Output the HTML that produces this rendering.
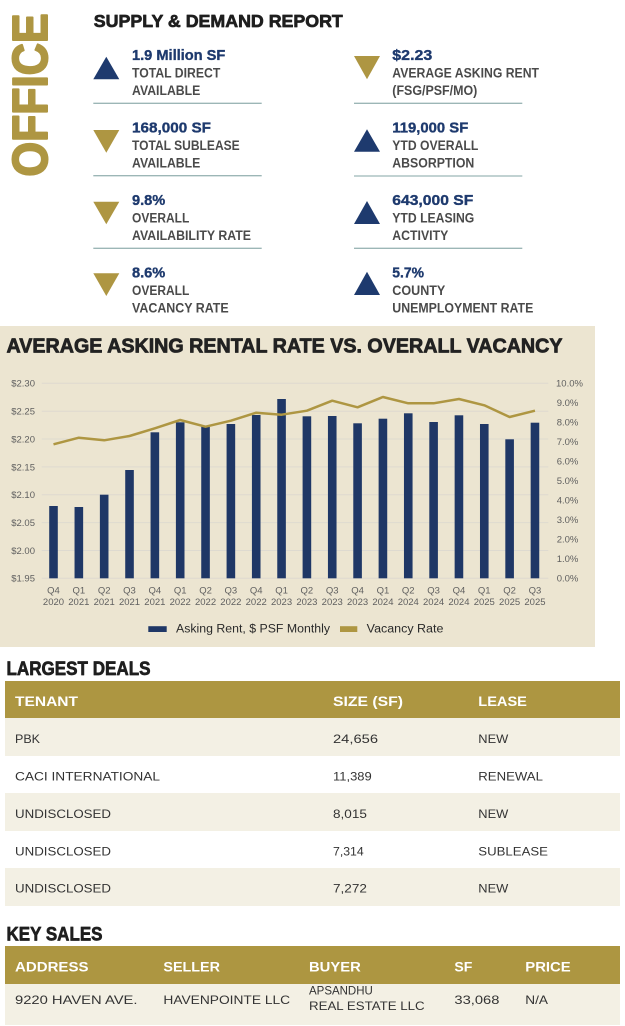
<!DOCTYPE html>
<html><head><meta charset="utf-8"><style>
html,body{margin:0;padding:0;background:#fff;}
svg{display:block;font-family:"Liberation Sans",Arial,sans-serif;}
</style></head><body>
<svg width="625" height="1026" viewBox="0 0 625 1026" xmlns="http://www.w3.org/2000/svg">
<rect width="625" height="1026" fill="#fff"/>
<!-- OFFICE vertical -->
<text transform="translate(47,176.5) rotate(-90)" font-size="49" font-weight="bold" fill="#ae9642" stroke="#ae9642" stroke-width="2" stroke-linejoin="round" textLength="163" lengthAdjust="spacingAndGlyphs">OFFICE</text>
<text x="93.8" y="27" font-size="17.5" font-weight="bold" fill="#1e1e1e" stroke="#1e1e1e" stroke-width="0.7" stroke-linejoin="round" textLength="249" lengthAdjust="spacingAndGlyphs">SUPPLY &amp; DEMAND REPORT</text>

<!-- left column -->
<g>
<polygon points="93.3,79.3 119.3,79.3 106.3,56.7" fill="#1e3a6e"/>
<polygon points="93.3,130 119.3,130 106.3,152.7" fill="#ae9642"/>
<polygon points="93.3,201.7 119.3,201.7 106.3,224.3" fill="#ae9642"/>
<polygon points="93.3,273.3 119.3,273.3 106.3,296" fill="#ae9642"/>
<g font-weight="bold" font-size="15" fill="#1e3a6e" stroke="#1e3a6e" stroke-width="0.35">
<text x="132" y="60" textLength="93.3" lengthAdjust="spacingAndGlyphs">1.9 Million SF</text>
<text x="132" y="132.3" textLength="79" lengthAdjust="spacingAndGlyphs">168,000 SF</text>
<text x="132" y="205" textLength="33.3" lengthAdjust="spacingAndGlyphs">9.8%</text>
<text x="132" y="277.3" textLength="33.3" lengthAdjust="spacingAndGlyphs">8.6%</text>
</g>
<g font-weight="bold" font-size="13.5" fill="#4a4a4a">
<text x="132" y="77.3" textLength="88.3" lengthAdjust="spacingAndGlyphs">TOTAL DIRECT</text>
<text x="132" y="95" textLength="68.3" lengthAdjust="spacingAndGlyphs">AVAILABLE</text>
<text x="132" y="150" textLength="107.7" lengthAdjust="spacingAndGlyphs">TOTAL SUBLEASE</text>
<text x="132" y="167.7" textLength="68.3" lengthAdjust="spacingAndGlyphs">AVAILABLE</text>
<text x="132" y="222.3" textLength="57.3" lengthAdjust="spacingAndGlyphs">OVERALL</text>
<text x="132" y="240" textLength="119" lengthAdjust="spacingAndGlyphs">AVAILABILITY RATE</text>
<text x="132" y="295" textLength="57.3" lengthAdjust="spacingAndGlyphs">OVERALL</text>
<text x="132" y="312.3" textLength="96.7" lengthAdjust="spacingAndGlyphs">VACANCY RATE</text>
</g>
<g stroke="#9cb6b6" stroke-width="1.3">
<line x1="93.3" y1="103.3" x2="261.7" y2="103.3"/>
<line x1="93.3" y1="175.7" x2="261.7" y2="175.7"/>
<line x1="93.3" y1="248.3" x2="261.7" y2="248.3"/>
</g>
</g>

<!-- right column -->
<g>
<polygon points="354,56 380,56 367,79.3" fill="#ae9642"/>
<polygon points="354,151.7 380,151.7 367,129.3" fill="#1e3a6e"/>
<polygon points="354,224 380,224 367,201" fill="#1e3a6e"/>
<polygon points="354,295 380,295 367,271.7" fill="#1e3a6e"/>
<g font-weight="bold" font-size="15" fill="#1e3a6e" stroke="#1e3a6e" stroke-width="0.35">
<text x="392.3" y="60" textLength="40" lengthAdjust="spacingAndGlyphs">$2.23</text>
<text x="392.3" y="132.3" textLength="76" lengthAdjust="spacingAndGlyphs">119,000 SF</text>
<text x="392.3" y="205" textLength="81" lengthAdjust="spacingAndGlyphs">643,000 SF</text>
<text x="392.3" y="277.3" textLength="31.7" lengthAdjust="spacingAndGlyphs">5.7%</text>
</g>
<g font-weight="bold" font-size="13.5" fill="#4a4a4a">
<text x="392.3" y="77.3" textLength="146.7" lengthAdjust="spacingAndGlyphs">AVERAGE ASKING RENT</text>
<text x="392.3" y="95" textLength="85" lengthAdjust="spacingAndGlyphs">(FSG/PSF/MO)</text>
<text x="392.3" y="150" textLength="86" lengthAdjust="spacingAndGlyphs">YTD OVERALL</text>
<text x="392.3" y="167.7" textLength="82" lengthAdjust="spacingAndGlyphs">ABSORPTION</text>
<text x="392.3" y="222.3" textLength="82" lengthAdjust="spacingAndGlyphs">YTD LEASING</text>
<text x="392.3" y="240" textLength="56" lengthAdjust="spacingAndGlyphs">ACTIVITY</text>
<text x="392.3" y="295" textLength="53" lengthAdjust="spacingAndGlyphs">COUNTY</text>
<text x="392.3" y="312.3" textLength="141" lengthAdjust="spacingAndGlyphs">UNEMPLOYMENT RATE</text>
</g>
<g stroke="#9cb6b6" stroke-width="1.3">
<line x1="354" y1="103.3" x2="522.3" y2="103.3"/>
<line x1="354" y1="176" x2="522.3" y2="176"/>
<line x1="354" y1="248.3" x2="522.3" y2="248.3"/>
</g>
</g>

<!-- Chart -->
<rect x="0" y="326" width="595" height="321" fill="#ece5d1"/>
<text x="6.5" y="352.5" font-size="20.5" font-weight="bold" fill="#222" stroke="#222" stroke-width="0.8" stroke-linejoin="round" textLength="556" lengthAdjust="spacingAndGlyphs">AVERAGE ASKING RENTAL RATE VS. OVERALL VACANCY</text>
<g stroke="#dedad0" stroke-width="1">
<line x1="41.7" y1="383.3" x2="548.3" y2="383.3"/>
<line x1="41.7" y1="411.2" x2="548.3" y2="411.2"/>
<line x1="41.7" y1="439" x2="548.3" y2="439"/>
<line x1="41.7" y1="466.9" x2="548.3" y2="466.9"/>
<line x1="41.7" y1="494.7" x2="548.3" y2="494.7"/>
<line x1="41.7" y1="522.6" x2="548.3" y2="522.6"/>
<line x1="41.7" y1="550.5" x2="548.3" y2="550.5"/>
<line x1="41.7" y1="578.3" x2="548.3" y2="578.3"/>
</g>
<g font-size="9.5" fill="#5f5f5f" text-anchor="end">
<text x="35" y="386.7">$2.30</text>
<text x="35" y="414.6">$2.25</text>
<text x="35" y="442.4">$2.20</text>
<text x="35" y="470.3">$2.15</text>
<text x="35" y="498.1">$2.10</text>
<text x="35" y="526">$2.05</text>
<text x="35" y="553.9">$2.00</text>
<text x="35" y="581.7">$1.95</text>
</g>
<g font-size="9.5" fill="#5f5f5f">
<text x="556" y="386.7">10.0%</text>
<text x="556.7" y="406.2">9.0%</text>
<text x="556.7" y="425.7">8.0%</text>
<text x="556.7" y="445.2">7.0%</text>
<text x="556.7" y="464.7">6.0%</text>
<text x="556.7" y="484.2">5.0%</text>
<text x="556.7" y="503.7">4.0%</text>
<text x="556.7" y="523.2">3.0%</text>
<text x="556.7" y="542.7">2.0%</text>
<text x="556.7" y="562.2">1.0%</text>
<text x="556.7" y="581.7">0.0%</text>
</g>
<g fill="#1f3766">
<rect x="49.2" y="506" width="8.6" height="72.3"/>
<rect x="74.54" y="507" width="8.6" height="71.3"/>
<rect x="99.88" y="494.7" width="8.6" height="83.6"/>
<rect x="125.22" y="470" width="8.6" height="108.3"/>
<rect x="150.56" y="432.3" width="8.6" height="146"/>
<rect x="175.9" y="422.3" width="8.6" height="156"/>
<rect x="201.24" y="426.7" width="8.6" height="151.6"/>
<rect x="226.58" y="424" width="8.6" height="154.3"/>
<rect x="251.92" y="415" width="8.6" height="163.3"/>
<rect x="277.26" y="399" width="8.6" height="179.3"/>
<rect x="302.6" y="416.3" width="8.6" height="162"/>
<rect x="327.94" y="416" width="8.6" height="162.3"/>
<rect x="353.28" y="423.3" width="8.6" height="155"/>
<rect x="378.62" y="418.7" width="8.6" height="159.6"/>
<rect x="403.96" y="413.3" width="8.6" height="165"/>
<rect x="429.3" y="422" width="8.6" height="156.3"/>
<rect x="454.64" y="415.3" width="8.6" height="163"/>
<rect x="479.98" y="424" width="8.6" height="154.3"/>
<rect x="505.32" y="439.3" width="8.6" height="139"/>
<rect x="530.66" y="422.7" width="8.6" height="155.6"/>
</g>
<polyline fill="none" stroke="#ae9642" stroke-width="2.5" stroke-linejoin="round" points="53.5,444.3 78.84,437.7 104.18,440.3 129.52,436 154.86,428.3 180.2,420 205.54,426.7 230.88,420.7 256.22,412.7 281.56,414.7 306.9,410.7 332.24,400.7 357.58,407.3 382.92,397 408.26,403.3 433.6,403.3 458.94,399 484.28,405.3 509.62,417 534.96,410.7"/>
<g font-size="9.5" fill="#5f5f5f" text-anchor="middle">
<text x="53.5" y="593.5">Q4</text><text x="53.5" y="605">2020</text>
<text x="78.84" y="593.5">Q1</text><text x="78.84" y="605">2021</text>
<text x="104.18" y="593.5">Q2</text><text x="104.18" y="605">2021</text>
<text x="129.52" y="593.5">Q3</text><text x="129.52" y="605">2021</text>
<text x="154.86" y="593.5">Q4</text><text x="154.86" y="605">2021</text>
<text x="180.2" y="593.5">Q1</text><text x="180.2" y="605">2022</text>
<text x="205.54" y="593.5">Q2</text><text x="205.54" y="605">2022</text>
<text x="230.88" y="593.5">Q3</text><text x="230.88" y="605">2022</text>
<text x="256.22" y="593.5">Q4</text><text x="256.22" y="605">2022</text>
<text x="281.56" y="593.5">Q1</text><text x="281.56" y="605">2023</text>
<text x="306.9" y="593.5">Q2</text><text x="306.9" y="605">2023</text>
<text x="332.24" y="593.5">Q3</text><text x="332.24" y="605">2023</text>
<text x="357.58" y="593.5">Q4</text><text x="357.58" y="605">2023</text>
<text x="382.92" y="593.5">Q1</text><text x="382.92" y="605">2024</text>
<text x="408.26" y="593.5">Q2</text><text x="408.26" y="605">2024</text>
<text x="433.6" y="593.5">Q3</text><text x="433.6" y="605">2024</text>
<text x="458.94" y="593.5">Q4</text><text x="458.94" y="605">2024</text>
<text x="484.28" y="593.5">Q1</text><text x="484.28" y="605">2025</text>
<text x="509.62" y="593.5">Q2</text><text x="509.62" y="605">2025</text>
<text x="534.96" y="593.5">Q3</text><text x="534.96" y="605">2025</text>
</g>
<rect x="148.3" y="626.2" width="18.4" height="5.8" fill="#1f3766"/>
<text x="176" y="632.5" font-size="11.5" fill="#2a2a2a" textLength="154" lengthAdjust="spacingAndGlyphs">Asking Rent, $ PSF Monthly</text>
<rect x="340" y="626.2" width="17.3" height="5.8" fill="#ae9642"/>
<text x="366.7" y="632.5" font-size="11.5" fill="#2a2a2a" textLength="76.7" lengthAdjust="spacingAndGlyphs">Vacancy Rate</text>

<!-- Largest deals -->
<text x="6.5" y="675" font-size="19.5" font-weight="bold" fill="#1e1e1e" stroke="#1e1e1e" stroke-width="0.7" stroke-linejoin="round" textLength="144" lengthAdjust="spacingAndGlyphs">LARGEST DEALS</text>
<rect x="5" y="681" width="615" height="37" fill="#ad9641"/>
<rect x="5" y="718" width="615" height="38" fill="#f3f0e4"/>
<rect x="5" y="793" width="615" height="38" fill="#f3f0e4"/>
<rect x="5" y="868" width="615" height="38" fill="#f3f0e4"/>
<g font-size="13.5" font-weight="bold" fill="#fff">
<text x="15" y="706" textLength="63" lengthAdjust="spacingAndGlyphs">TENANT</text>
<text x="333" y="706" textLength="70" lengthAdjust="spacingAndGlyphs">SIZE (SF)</text>
<text x="478.3" y="706" textLength="48.6" lengthAdjust="spacingAndGlyphs">LEASE</text>
</g>
<g font-size="12" fill="#333">
<text x="15" y="743" textLength="25" lengthAdjust="spacingAndGlyphs">PBK</text>
<text x="333" y="743" textLength="45" lengthAdjust="spacingAndGlyphs">24,656</text>
<text x="478.3" y="743" textLength="30" lengthAdjust="spacingAndGlyphs">NEW</text>
<text x="15" y="780.5" textLength="145" lengthAdjust="spacingAndGlyphs">CACI INTERNATIONAL</text>
<text x="333" y="780.5" textLength="38.7" lengthAdjust="spacingAndGlyphs">11,389</text>
<text x="478.3" y="780.5" textLength="64.6" lengthAdjust="spacingAndGlyphs">RENEWAL</text>
<text x="15" y="818" textLength="96" lengthAdjust="spacingAndGlyphs">UNDISCLOSED</text>
<text x="333" y="818" textLength="33.9" lengthAdjust="spacingAndGlyphs">8,015</text>
<text x="478.3" y="818" textLength="30" lengthAdjust="spacingAndGlyphs">NEW</text>
<text x="15" y="855.5" textLength="96" lengthAdjust="spacingAndGlyphs">UNDISCLOSED</text>
<text x="333" y="855.5" textLength="30.7" lengthAdjust="spacingAndGlyphs">7,314</text>
<text x="478.3" y="855.5" textLength="69.7" lengthAdjust="spacingAndGlyphs">SUBLEASE</text>
<text x="15" y="892.5" textLength="96" lengthAdjust="spacingAndGlyphs">UNDISCLOSED</text>
<text x="333" y="892.5" textLength="33.9" lengthAdjust="spacingAndGlyphs">7,272</text>
<text x="478.3" y="892.5" textLength="30" lengthAdjust="spacingAndGlyphs">NEW</text>
</g>

<!-- Key sales -->
<text x="6.5" y="940.7" font-size="19.5" font-weight="bold" fill="#1e1e1e" stroke="#1e1e1e" stroke-width="0.7" stroke-linejoin="round" textLength="96" lengthAdjust="spacingAndGlyphs">KEY SALES</text>
<rect x="5" y="946" width="615" height="38" fill="#ad9641"/>
<rect x="5" y="984" width="615" height="41" fill="#f3f0e4"/>
<g font-size="13.5" font-weight="bold" fill="#fff">
<text x="15" y="971.7" textLength="73.5" lengthAdjust="spacingAndGlyphs">ADDRESS</text>
<text x="163.4" y="971.7" textLength="56.6" lengthAdjust="spacingAndGlyphs">SELLER</text>
<text x="309" y="971.7" textLength="51.8" lengthAdjust="spacingAndGlyphs">BUYER</text>
<text x="454.4" y="971.7" textLength="18" lengthAdjust="spacingAndGlyphs">SF</text>
<text x="525.3" y="971.7" textLength="45.4" lengthAdjust="spacingAndGlyphs">PRICE</text>
</g>
<g font-size="12" fill="#333">
<text x="15" y="1004" textLength="122.5" lengthAdjust="spacingAndGlyphs">9220 HAVEN AVE.</text>
<text x="163.4" y="1004" textLength="126.7" lengthAdjust="spacingAndGlyphs">HAVENPOINTE LLC</text>
<text x="309" y="994.3" textLength="63.8" lengthAdjust="spacingAndGlyphs">APSANDHU</text>
<text x="309" y="1010" textLength="115.6" lengthAdjust="spacingAndGlyphs">REAL ESTATE LLC</text>
<text x="454.4" y="1004" textLength="45" lengthAdjust="spacingAndGlyphs">33,068</text>
<text x="525.3" y="1004" textLength="22.7" lengthAdjust="spacingAndGlyphs">N/A</text>
</g>
</svg>
</body></html>
